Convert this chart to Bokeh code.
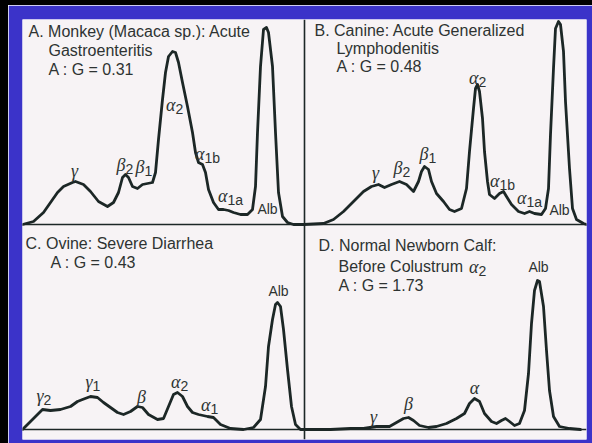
from bokeh.plotting import figure
from bokeh.layouts import column, row
from bokeh.models import Range1d, Span, Div
from bokeh.core.properties import value
from bokeh.embed import file_html
from bokeh.resources import INLINE

# ---------------- data (migration distance vs. relative density) ----------------
# Panel A: Monkey (Macaca sp.), acute gastroenteritis
A_x = [0, 11, 21, 28, 35, 41, 50, 53, 61, 68, 76, 85, 91, 96, 100, 103, 106, 110, 115, 120,
       125, 130, 133, 136, 140, 143, 146, 150, 153, 156, 160, 165, 170, 173, 176, 180, 183, 186, 191, 196,
       201, 206, 211, 218, 225, 230, 233, 235, 238, 241, 244, 246, 250, 253, 256, 260, 265, 271, 281]
A_y = [0, 3, 12, 22, 32, 38, 42, 43, 40, 33, 23, 18, 22, 32, 47, 50, 47, 38, 36, 40,
       41, 42, 52, 85, 125, 152, 168, 173, 172, 162, 142, 118, 92, 72, 62, 60, 52, 35, 22, 15,
       15, 14, 12, 10, 10, 15, 38, 92, 158, 195, 197, 192, 158, 92, 32, 8, 2, 0, 0]

# Panel B: Canine, acute generalized lymphodenitis
B_x = [0, 20, 30, 40, 50, 60, 68, 75, 81, 88, 96, 103, 110, 115, 118, 121, 125, 128, 133, 140,
       146, 151, 158, 163, 166, 170, 172, 174, 176, 179, 181, 184, 186, 191, 196, 200, 203, 208, 215, 221,
       226, 231, 238, 242, 245, 247, 250, 252, 255, 257, 260, 262, 266, 269, 273, 280, 283]
B_y = [0, 1, 5, 13, 23, 33, 38, 40, 37, 40, 43, 40, 33, 43, 53, 58, 55, 43, 31, 23,
       15, 13, 16, 36, 73, 116, 136, 140, 133, 106, 73, 43, 30, 26, 31, 33, 28, 20, 13, 11,
       13, 11, 10, 16, 36, 90, 156, 196, 203, 200, 173, 123, 56, 16, 5, 1, 0]

# Panel C: Ovine, severe diarrhea
C_x = [0, 8, 15, 20, 28, 38, 48, 55, 60, 68, 75, 81, 88, 95, 101, 108, 115, 120, 126, 135,
       141, 146, 151, 155, 160, 165, 170, 176, 185, 191, 198, 208, 221, 231, 238, 243, 246, 250, 253, 255,
       258, 261, 265, 269, 273, 278, 281]
C_y = [0, 8, 15, 20, 19, 20, 23, 28, 30, 33, 32, 27, 22, 17, 15, 18, 23, 22, 15, 10,
       11, 23, 35, 37, 33, 23, 17, 15, 13, 12, 5, 1, 0, 2, 10, 43, 83, 110, 125, 127,
       123, 100, 60, 23, 5, 0, 0]

# Panel D: Normal newborn calf before colostrum
D_x = [0, 25, 45, 58, 71, 84, 91, 98, 103, 108, 114, 123, 131, 141, 151, 159, 164, 169, 174, 179,
       186, 191, 196, 200, 204, 209, 214, 219, 223, 226, 229, 232, 234, 238, 241, 244, 248, 254, 264, 275]
D_y = [0, 0, 1, 1, 3, 3, 7, 11, 12, 9, 4, 2, 3, 6, 11, 16, 26, 31, 28, 16,
       8, 6, 9, 11, 8, 4, 6, 19, 56, 106, 139, 149, 148, 123, 79, 39, 13, 3, 1, 0]

# titles
A_title = ["A. Monkey (Macaca sp.): Acute", "Gastroenteritis", "A : G = 0.31"]
B_title = ["B. Canine: Acute Generalized", "Lymphodenitis", "A : G = 0.48"]
C_title = ["C. Ovine: Severe Diarrhea", "A : G = 0.43"]
D_title = ["D. Normal Newborn Calf:", "Before Colustrum", "A : G = 1.73"]

# fraction labels: plain (no subscript) and with subscript
A_plain = ["γ", "Alb"]
A_base = ["β", "β", "α", "α", "α"]
A_sub = ["2", "1", "2", "1b", "1a"]
B_plain = ["γ", "Alb"]
B_base = ["β", "β", "α", "α", "α"]
B_sub = ["2", "1", "2", "1b", "1a"]
C_plain = ["β", "Alb"]
C_base = ["γ", "γ", "α", "α"]
C_sub = ["2", "1", "2", "1"]
D_plain = ["γ", "β", "α", "Alb"]
D_base = ["α"]
D_sub = ["2"]

# ---------------- layout / style ----------------
BLUE = "#3b33c9"
PAPER = "#f7f3f5"
INK = "#1c2726"
TXT = "#2e3332"
SANS = value("Liberation Sans")
SERIF = value("Liberation Serif")

layout = {
    "A": dict(title_xy=([6, 26, 26], [193, 174.5, 155]),
              plain_xy=([52, 245], [54, 16]),
              sub_xy=([103, 122, 153, 182, 205], [60, 58, 120, 71, 29])),
    "B": dict(title_xy=([11, 33, 33], [194.5, 176, 158]),
              plain_xy=([72, 256], [52, 15]),
              sub_xy=([99, 125, 175, 196, 223], [57, 71, 147, 44, 27])),
    "C": dict(title_xy=([3, 28], [186, 167]),
              plain_xy=([119, 256], [33, 139]),
              sub_xy=([21, 70, 158, 188], [34, 48, 48, 25])),
    "D": dict(title_xy=([13, 33, 33], [184, 163, 144]),
              plain_xy=([68, 103, 169, 233], [13, 26, 42, 163]),
              sub_xy=([173], [163])),
}

# one figure; each panel gets its own pair of ranges
p = figure(width=584, height=438,
           x_range=Range1d(0, 564), y_range=Range1d(-215, 205),
           output_backend="svg", toolbar_location=None, tools="",
           x_axis_location=None, y_axis_location=None,
           min_border_left=14, min_border_right=6, min_border_top=14, min_border_bottom=4,
           background_fill_color=PAPER, border_fill_color=BLUE, margin=0)
p.extra_x_ranges = {"B": Range1d(-281, 283), "D": Range1d(-283, 281)}
p.extra_y_ranges = {"bottom": Range1d(-10, 410)}
p.outline_line_color = None
p.grid.grid_line_color = None

p.add_layout(Span(location=0, dimension="width", line_color=INK, line_width=1.6))
p.add_layout(Span(location=0, dimension="width", y_range_name="bottom",
                  line_color=INK, line_width=1.6))
p.add_layout(Span(location=1, dimension="height", x_range_name="B",
                  line_color=INK, line_width=1.6))


def panel(key, xr, yr, xs, ys, title, plain, base, sub):
    lay = layout[key]
    kw = dict(x_range_name=xr, y_range_name=yr)
    p.line(xs, ys, line_color=INK, line_width=2.8, line_join="round", line_cap="round", **kw)
    tx, ty = lay["title_xy"]
    p.text(x=tx, y=ty, text=title, text_font=SANS, text_font_size="16px",
           text_color=TXT, text_align="left", text_baseline="middle", **kw)
    px_, py_ = lay["plain_xy"]
    fonts = ["Liberation Sans" if s == "Alb" else "Liberation Serif" for s in plain]
    styles = ["normal" if s == "Alb" else "italic" for s in plain]
    sizes = ["14px" if s == "Alb" else "18px" for s in plain]
    p.text(x=px_, y=py_, text=plain, text_font=fonts, text_font_style=styles,
           text_font_size=sizes, text_color=TXT, text_align="center", text_baseline="middle", **kw)
    sx, sy = lay["sub_xy"]
    p.text(x=sx, y=sy, text=base, text_font=SERIF, text_font_style="italic",
           text_font_size="18px", text_color=TXT, text_align="right", text_baseline="middle", **kw)
    p.text(x=sx, y=sy, text=sub, text_font=SANS, text_font_size="14px",
           text_color=TXT, text_align="left", text_baseline="middle", y_offset=4, **kw)


panel("A", "default", "default", A_x, A_y, A_title, A_plain, A_base, A_sub)
panel("B", "B", "default", B_x, B_y, B_title, B_plain, B_base, B_sub)
panel("C", "default", "bottom", C_x, C_y, C_title, C_plain, C_base, C_sub)
panel("D", "D", "bottom", D_x, D_y, D_title, D_plain, D_base, D_sub)

top_strip = Div(text="", width=592, height=5, margin=0,
                styles={"background-color": "#000000"})
left_strip = Div(text="", width=8, height=438, margin=0,
                 styles={"background-color": "#000000"})
page = column(top_strip, row(left_strip, p, spacing=0, margin=0), spacing=0, margin=0)

open("out.html", "w").write(file_html(page, INLINE))
